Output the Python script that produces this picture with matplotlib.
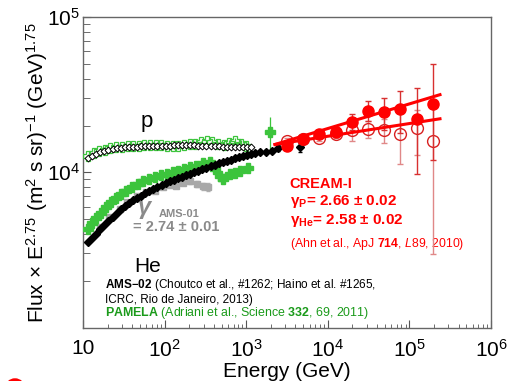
import matplotlib
matplotlib.use("Agg")
import matplotlib.pyplot as plt
import numpy as np
from matplotlib.patches import Circle
from matplotlib.ticker import FixedLocator, FixedFormatter, LogLocator, NullFormatter

plt.rcParams['font.family'] = ['Liberation Sans', 'DejaVu Sans']
plt.rcParams['mathtext.fontset'] = 'custom'
plt.rcParams['mathtext.rm'] = 'Liberation Sans'
plt.rcParams['mathtext.it'] = 'Liberation Sans:italic'
plt.rcParams['mathtext.bf'] = 'Liberation Sans:bold'

# AMS-02 protons (open diamonds)
ams_p_E = [11.5, 12.9, 14.5, 16.3, 18.3, 20.5, 23.0, 25.8, 29.0, 32.5, 36.5, 41.0,
           46.0, 51.6, 57.9, 65.0, 72.9, 81.8, 91.8, 103, 116, 130, 146, 163, 183,
           206, 231, 259, 291, 326, 366, 411, 461, 517, 580, 651, 730, 820, 920,
           1030, 1160]
ams_p_F = [12300, 12700, 13100, 13450, 13750, 13950, 14150, 14300, 14400, 14500,
           14550, 14600, 14650, 14700, 14700, 14750, 14750, 14800, 14800, 14850,
           14850, 14900, 14900, 14900, 14900, 14900, 14900, 14850, 14850, 14800,
           14750, 14700, 14700, 14650, 14600, 14600, 14550, 14550, 14500, 14500,
           14450]

# AMS-02 helium (filled diamonds)
ams_he_E = [11.5, 12.9, 14.5, 16.3, 18.3, 20.5, 23.0, 25.8, 29.0, 32.5, 36.5, 41.0,
            46.0, 51.6, 57.9, 65.0, 72.9, 81.8, 91.8, 103, 116, 130, 146, 163, 183,
            206, 231, 259, 291, 326, 366, 411, 461, 517, 580, 651, 730, 820, 920,
            1030, 1160, 1300, 1480, 1750, 2050, 2470, 4570]
ams_he_F = [3560, 3780, 4020, 4300, 4580, 4870, 5170, 5470, 5770, 6050, 6330, 6580,
            6820, 7060, 7300, 7540, 7780, 8020, 8260, 8500, 8740, 8960, 9180, 9380,
            9580, 9780, 9980, 10200, 10450, 10700, 10950, 11200, 11420, 11640, 11860,
            12080, 12300, 12500, 12700, 12900, 13080, 13250, 13420, 13600, 13800,
            14300, 14500]
ams_he_err = [0] * 43 + [300, 400, 600, 1000]

# AMS-01 helium (grey squares)
ams01_E = [16.2, 21, 28.4, 34.6, 46, 59, 76, 96, 116, 138, 168, 205, 250, 296, 340]
ams01_F = [4450, 5150, 5780, 6430, 7030, 7440, 7550, 8040, 8280, 8160, 8530, 8770,
           8410, 8160, 8040]
ams01_err = [80, 90, 100, 110, 130, 150, 170, 200, 230, 260, 300, 340, 380, 420, 480]

# PAMELA protons (open crosses)
pam_p_E = [11.5, 13.5, 15.8, 18.5, 21.7, 25.5, 30, 35.2, 41.3, 48.4, 56.7, 66.5, 78,
           91.5, 107, 126, 148, 173, 203, 238, 280, 328, 385, 451, 530, 622, 730,
           855, 1000]
pam_p_F = [12800, 13300, 13700, 14000, 14250, 14450, 14600, 14700, 14800, 14850,
           14900, 14950, 14950, 14900, 14850, 14800, 14800, 14900, 15100, 15300,
           15600, 15900, 15700, 15200, 14900, 15500, 15900, 15300, 14800]
pam_p_err = [0] * 20 + [250, 300, 350, 400, 450, 550, 650, 800, 1000]

# PAMELA helium (filled crosses)
pam_he_E = [11.5, 13.0, 14.4, 16.5, 19.1, 22, 25.4, 29.5, 34, 40, 47, 55, 65, 77, 90,
            106, 125, 148, 175, 207, 245, 296, 360, 415, 475, 522, 632, 730, 840,
            1060, 1950]
pam_he_F = [4310, 4700, 5100, 5500, 5950, 6400, 6850, 7250, 7620, 8000, 8380, 8720,
            9050, 9320, 9580, 9800, 10000, 10200, 10450, 10750, 11050, 11400, 11700,
            10450, 9460, 9010, 9710, 9950, 10190, 10710, 18300]
pam_he_err = [0] * 25 + [250, 300, 350, 400, 500, 4300]

# CREAM-I
cream_E = [3135, 5010, 7870, 12500, 19600, 31400, 49200, 77400, 122800, 196000]
cream_he = [14750, 16300, 17540, 18250, 21150, 24960, 24360, 25600, 21880, 27540]
cream_he_lo = [14000, 15500, 16700, 17000, 18750, 21300, 18600, 18000, 9700, 12000]
cream_he_hi = [15500, 17200, 18500, 19500, 23550, 28650, 30140, 33240, 34950, 50000]
cream_p = [15880, 16400, 16680, 17540, 18580, 19050, 18580, 17700, 19140, 15880]
cream_p_lo = [15100, 15600, 15900, 16700, 16000, 16500, 15500, 11300, 13000, 2980]
cream_p_hi = [16600, 17200, 17500, 18400, 21000, 21500, 22000, 24000, 25000, 29000]

# CREAM power-law fits
fit_E = [2255, 237000]
fit_he = [15100, 31600]
fit_p = [15100, 22100]

green = '#3cc43c'
red = '#ff0000'

fig = plt.figure(figsize=(5.16, 3.81), dpi=100)
ax = fig.add_axes([83 / 516, 1 - 327.5 / 381, 408 / 516, 310.5 / 381])
ax.set_xscale('log')
ax.set_yscale('log')
ax.set_xlim(10, 1e6)
ax.set_ylim(1000, 1e5)

ax.errorbar(ams01_E, ams01_F, yerr=ams01_err, fmt='s', ms=4, color='#a8a8a8',
            ecolor='#b0b0b0', elinewidth=0.8, capsize=1.5, zorder=2)
ax.errorbar(pam_p_E, pam_p_F, yerr=pam_p_err, fmt='P', ms=6.5, mfc='none',
            mec=green, mew=0.9, ecolor=green, elinewidth=0.9, capsize=0, zorder=3)
ax.errorbar(pam_he_E, pam_he_F, yerr=pam_he_err, fmt='P', ms=6.5, color=green,
            ecolor=green, elinewidth=0.9, capsize=0, zorder=3)
ax.plot(ams_p_E, ams_p_F, 'D', ms=3.5, mfc='white', mec='black', mew=0.7, zorder=4)
ax.errorbar(ams_he_E, ams_he_F, yerr=ams_he_err, fmt='D', ms=4, color='black',
            ecolor='black', elinewidth=0.8, capsize=1.5, zorder=4)

he_yerr = [np.array(cream_he) - np.array(cream_he_lo), np.array(cream_he_hi) - np.array(cream_he)]
p_yerr = [np.array(cream_p) - np.array(cream_p_lo), np.array(cream_p_hi) - np.array(cream_p)]
ax.errorbar(cream_E, cream_p, yerr=p_yerr, fmt='o', ms=8.5, mfc='none', mec='#d82020',
            mew=1.0, ecolor='#e08888', elinewidth=1.0, capsize=2, zorder=5)
ax.errorbar(cream_E, cream_he, yerr=he_yerr, fmt='o', ms=8, color=red,
            ecolor='#d83030', elinewidth=1.0, capsize=2, zorder=6)
ax.plot(fit_E, fit_he, color=red, lw=2.2, zorder=7)
ax.plot(fit_E, fit_p, color=red, lw=2.2, zorder=7)

# axes styling
for side in ['top', 'right', 'left', 'bottom']:
    ax.spines[side].set_color('#666666')
    ax.spines[side].set_linewidth(1.0)
ax.tick_params(which='both', direction='in', top=False, right=False,
               color='#555555', labelsize=15)
ax.tick_params(axis='x', which='major', length=6, pad=8)
ax.tick_params(axis='x', which='minor', length=3)
ax.tick_params(axis='y', which='major', length=6, pad=2)
ax.tick_params(axis='y', which='minor', length=5)
ax.xaxis.set_major_locator(FixedLocator([10, 1e2, 1e3, 1e4, 1e5, 1e6]))
ax.xaxis.set_major_formatter(FixedFormatter(['10', '$10^2$', '$10^3$', '$10^4$', '$10^5$', '$10^6$']))
ax.xaxis.set_minor_locator(LogLocator(base=10, subs=np.arange(2, 10), numticks=20))
ax.xaxis.set_minor_formatter(NullFormatter())
ax.yaxis.set_major_locator(FixedLocator([1e4, 1e5]))
ax.yaxis.set_major_formatter(FixedFormatter(['$10^4$', '$10^5$']))
ax.yaxis.set_minor_locator(LogLocator(base=10, subs=np.arange(2, 10), numticks=20))
ax.yaxis.set_minor_formatter(NullFormatter())

ax.set_xlabel('Energy (GeV)', fontsize=15, labelpad=1)
ax.set_ylabel(r'Flux $\times$ E$^{2.75}$ (m$^2$ s sr)$^{-1}$ (GeV)$^{1.75}$', fontsize=15)
ax.yaxis.set_label_coords(-0.08, 0.5)

# annotations
ax.text(0.157, 0.646, 'p', fontsize=16, ha='center', va='baseline', transform=ax.transAxes)
ax.text(0.158, 0.18, 'He', fontsize=15, ha='center', va='baseline', transform=ax.transAxes)

grey = '#8a8a8a'
ax.text(0.135, 0.365, 'γ', fontsize=17, color=grey, style='italic', fontweight='bold',
        va='baseline', transform=ax.transAxes)
ax.text(0.185, 0.357, 'AMS-01', fontsize=8, color=grey, fontweight='bold',
        va='baseline', transform=ax.transAxes)
ax.text(0.123, 0.311, '= 2.74 ± 0.01', fontsize=10.5, color=grey, fontweight='bold',
        va='baseline', transform=ax.transAxes)

ax.text(0.507, 0.448, 'CREAM-I', fontsize=10.5, color=red, fontweight='bold',
        va='baseline', transform=ax.transAxes)
ax.text(0.507, 0.394, r'γ$_{\mathbf{P}}$= 2.66 ± 0.02', fontsize=11, color=red,
        fontweight='bold', va='baseline', transform=ax.transAxes)
ax.text(0.507, 0.332, r'γ$_{\mathbf{He}}$= 2.58 ± 0.02', fontsize=11, color=red,
        fontweight='bold', va='baseline', transform=ax.transAxes)
ax.text(0.507, 0.26, r'(Ahn et al., ApJ $\mathbf{714}$, $\mathit{L89}$, 2010)',
        fontsize=8.8, color=red, va='baseline', transform=ax.transAxes)

ax.text(0.054, 0.128, r'$\mathbf{AMS{-}02}$ (Choutco et al., #1262; Haino et al. #1265,',
        fontsize=8.5, color='black', va='baseline', transform=ax.transAxes)
ax.text(0.054, 0.08, 'ICRC, Rio de Janeiro, 2013)', fontsize=8.5, color='black',
        va='baseline', transform=ax.transAxes)
ax.text(0.054, 0.038, r'$\mathbf{PAMELA}$ (Adriani et al., Science $\mathbf{332}$, 69, 2011)',
        fontsize=8.9, color='#1a9a1a', va='baseline', transform=ax.transAxes)

# red ring fragment at bottom-left corner
fig.patches.append(Circle((0.15, -0.075), 0.085, transform=fig.dpi_scale_trans,
                          fill=False, edgecolor=red, lw=2.5))

fig.savefig('out.png', dpi=100)
